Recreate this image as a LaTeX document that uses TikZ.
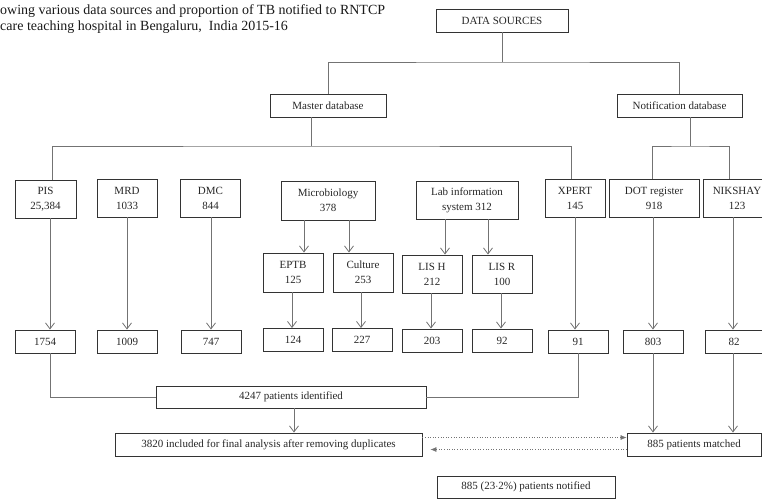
\documentclass[tikz,border=0pt]{standalone}
\usepackage{fontspec}
\setmainfont{Liberation Serif}
\usetikzlibrary{arrows.meta}
\begin{document}
\begin{tikzpicture}[x=1pt,y=-1pt,
  box/.style={draw=black!80, line width=0.9pt, inner sep=1pt, align=center,
    font=\fontsize{11}{15}\selectfont, text=black!85},
  conn/.style={draw=black!55, line width=0.8pt},
  arr/.style={conn, -{Straight Barb[length=6pt,width=9pt]}},
  dotarr/.style={draw=black!55, dotted, line width=0.6pt, -{Latex[length=6pt,width=5pt]}}]
\useasboundingbox (0,0) rectangle (762,499);

% title
\node[anchor=west, align=left, inner sep=0pt, font=\fontsize{14}{16.5}\selectfont, text=black!90] (title) at (0,19)
  {owing various data sources and proportion of TB notified to RNTCP\\care teaching hospital in Bengaluru,~ India 2015-16};

% top level
\node[box, minimum width=132pt, minimum height=23pt] (ds) at (502,20.5) {DATA SOURCES};
\node[box, minimum width=116pt, minimum height=23pt] (master) at (328,105.5) {Master database};
\node[box, minimum width=125pt, minimum height=23pt] (notif) at (679.5,105.5) {Notification database};

% sources
\node[box, minimum width=61pt, minimum height=38pt] (pis) at (45.5,199) {PIS\\25,384};
\node[box, minimum width=60pt, minimum height=38pt] (mrd) at (127,198) {MRD\\1033};
\node[box, minimum width=60pt, minimum height=38pt] (dmc) at (210.5,198) {DMC\\844};
\node[box, minimum width=94pt, minimum height=39pt] (micro) at (328,200.5) {Microbiology\\378};
\node[box, minimum width=102pt, minimum height=38pt] (lis) at (467,200) {Lab information\\system 312};
\node[box, minimum width=60pt, minimum height=38pt] (xpert) at (575,198) {XPERT\\145};
\node[box, minimum width=90pt, minimum height=38pt] (dot) at (654,198) {DOT register\\918};
\node[box, minimum width=68pt, minimum height=38pt] (nik) at (737,198) {NIKSHAY\\123};

% sub sources
\node[box, minimum width=60pt, minimum height=39pt] (eptb) at (293,272.5) {EPTB\\125};
\node[box, minimum width=60pt, minimum height=39pt] (cult) at (363,272.5) {Culture\\253};
\node[box, minimum width=60pt, minimum height=38pt] (lish) at (432,274) {LIS H\\212};
\node[box, minimum width=60pt, minimum height=38pt] (lisr) at (502,274) {LIS R\\100};

% counts row
\node[box, minimum width=60pt, minimum height=23pt] (b1754) at (45,341.5) {1754};
\node[box, minimum width=60pt, minimum height=23pt] (b1009) at (127,341.5) {1009};
\node[box, minimum width=60pt, minimum height=23pt] (b747) at (211,341.5) {747};
\node[box, minimum width=60pt, minimum height=23pt] (b124) at (293,340) {124};
\node[box, minimum width=60pt, minimum height=23pt] (b227) at (362,340) {227};
\node[box, minimum width=60pt, minimum height=23pt] (b203) at (432,340.5) {203};
\node[box, minimum width=60pt, minimum height=23pt] (b92) at (502,340.5) {92};
\node[box, minimum width=60pt, minimum height=23pt] (b91) at (578,341.5) {91};
\node[box, minimum width=60pt, minimum height=23pt] (b803) at (653,341.5) {803};
\node[box, minimum width=58pt, minimum height=23pt] (b82) at (734,341.5) {82};

% results
\node[box, minimum width=270pt, minimum height=22pt] (ident) at (291,397) {4247 patients identified};
\node[box, minimum width=307pt, minimum height=23pt] (final) at (268.5,444.5) {3820 included for final analysis after removing duplicates};
\node[box, minimum width=134pt, minimum height=23pt] (match) at (694,444.5) {885 patients matched};
\node[box, minimum width=178pt, minimum height=22pt] (notified) at (526,487) {885 (23$\cdot$2\%) patients notified};

% tree connectors
\coordinate (jtop) at (502,62);
\draw[conn] (ds.south) -- (jtop);
\draw[conn] (master.north) |- (jtop) -| (notif.north);
\coordinate (mbus) at (311,146);
\draw[conn] (master.south -| mbus) -- (mbus);
\draw[conn] (pis.north -| 52,0) |- (mbus) -| (xpert.north -| 571,0);
\coordinate (nbus) at (690,146);
\draw[conn] (notif.south -| nbus) -- (nbus);
\draw[conn] (dot.north -| 652,0) |- (nbus) -| (nik.north -| 729,0);

% arrows
\draw[arr] (pis.south -| 50,0) -- (b1754.north -| 50,0);
\draw[arr] (mrd.south) -- (b1009.north -| mrd.south);
\draw[arr] (dmc.south -| 211,0) -- (b747.north -| 211,0);
\draw[arr] (micro.south -| 304,0) -- (eptb.north -| 304,0);
\draw[arr] (micro.south -| 349,0) -- (cult.north -| 349,0);
\draw[arr] (eptb.south -| 292,0) -- (b124.north -| 292,0);
\draw[arr] (cult.south -| 361,0) -- (b227.north -| 361,0);
\draw[arr] (lis.south -| 445,0) -- (lish.north -| 445,0);
\draw[arr] (lis.south -| 488,0) -- (lisr.north -| 488,0);
\draw[arr] (lish.south -| 431,0) -- (b203.north -| 431,0);
\draw[arr] (lisr.south -| 501,0) -- (b92.north -| 501,0);
\draw[arr] (xpert.south) -- (b91.north -| xpert.south);
\draw[arr] (dot.south -| 653,0) -- (b803.north -| 653,0);
\draw[arr] (nik.south -| 733,0) -- (b82.north -| 733,0);

\draw[conn] (b1754.south -| 50,0) |- (ident.west);
\draw[conn] (b91.south) |- (ident.east);
\draw[arr] (ident.south -| 294,0) -- (final.north -| 294,0);
\draw[arr] (b803.south) -- (match.north -| b803.south);
\draw[arr] (b82.south -| 733,0) -- (match.north -| 733,0);

\draw[dotarr] (final.east |- 0,437.5) -- (match.west |- 0,437.5);
\draw[dotarr, shorten >=8pt] (match.west |- 0,449.5) -- (final.east |- 0,449.5);
\end{tikzpicture}
\end{document}
